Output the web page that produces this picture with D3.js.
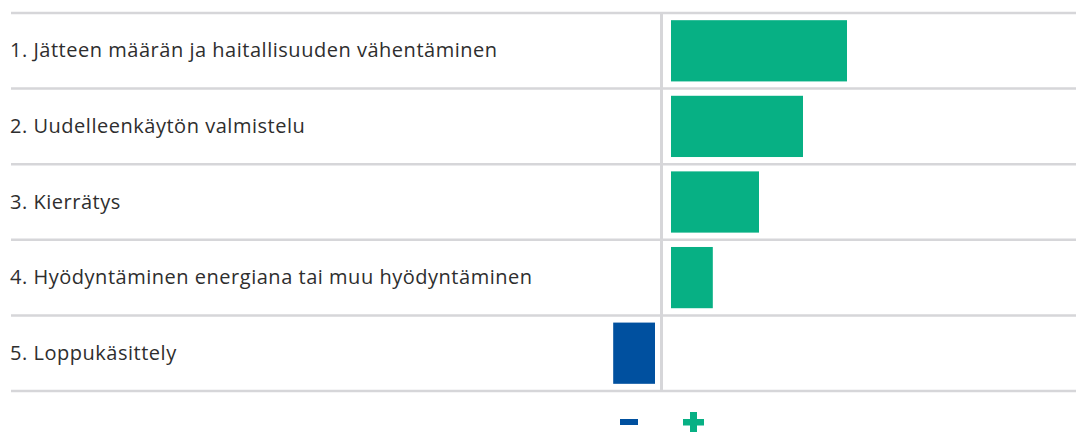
<!DOCTYPE html>
<html>
<head>
<meta charset="utf-8">
<script src="https://cdn.jsdelivr.net/npm/d3@7"></script>
<style>
    html, body { margin: 0; padding: 0; background: #fff; }
    svg { display: block; }
    .label { font-family: "Open Sans", sans-serif; font-size: 20px; letter-spacing: 0.52px; fill: #2e2e2e; }
</style>
</head>
<body>
<svg id="chart" width="1076" height="432"></svg>
<script>
// Waste hierarchy steps and their direction/size
const categories = [
    '1. Jätteen määrän ja haitallisuuden vähentäminen',
    '2. Uudelleenkäytön valmistelu',
    '3. Kierrätys',
    '4. Hyödyntäminen energiana tai muu hyödyntäminen',
    '5. Loppukäsittely'
];
const values = [4, 3, 2, 0.95, -0.95];

const width = 1076;
const zeroX = 661.5;
const posGap = 9.5;   // space between axis line and positive bars
const negGap = 6.5;   // space between axis line and negative bars

const colorPos = '#07b084';
const colorNeg = '#00509f';
const gridColor = '#d6d6d9';

const svg = d3.select('#chart');

const y = d3.scaleBand()
    .domain(categories)
    .range([13, 391])
    .paddingInner(0.19)
    .paddingOuter(0.095);

const len = d3.scaleLinear()
    .domain([0, 4])
    .range([0, 176]);

const step = y.step();
const rowTop = d => y(d) - y.paddingOuter() * step;

// horizontal separators
const lineYs = categories.map(rowTop).concat([391]);
svg.append('g')
    .selectAll('line')
    .data(lineYs)
    .join('line')
    .attr('x1', 11)
    .attr('x2', width)
    .attr('y1', d => d)
    .attr('y2', d => d)
    .attr('stroke', gridColor)
    .attr('stroke-width', 2.5);

// zero line
svg.append('line')
    .attr('x1', zeroX)
    .attr('x2', zeroX)
    .attr('y1', 12)
    .attr('y2', 392)
    .attr('stroke', gridColor)
    .attr('stroke-width', 3);

// bars
svg.append('g')
    .selectAll('rect')
    .data(categories.map((c, i) => ({ c, v: values[i] })))
    .join('rect')
    .attr('x', d => d.v >= 0 ? zeroX + posGap : zeroX - negGap - len(-d.v))
    .attr('y', d => y(d.c))
    .attr('width', d => len(Math.abs(d.v)))
    .attr('height', y.bandwidth())
    .attr('fill', d => d.v >= 0 ? colorPos : colorNeg);

// row labels
svg.append('g')
    .selectAll('text')
    .data(categories)
    .join('text')
    .attr('class', 'label')
    .attr('x', 10)
    .attr('y', d => y(d) + y.bandwidth() / 2 + 6.5)
    .text(d => d);

// minus / plus markers under the axis
const mark = svg.append('g');
mark.append('rect')
    .attr('x', 620).attr('y', 419)
    .attr('width', 18).attr('height', 6)
    .attr('fill', colorNeg);
mark.append('path')
    .attr('d', 'M683,419h7v-7h7v7h7v6.5h-7v7h-7v-7h-7z')
    .attr('fill', colorPos);
</script>
</body>
</html>
